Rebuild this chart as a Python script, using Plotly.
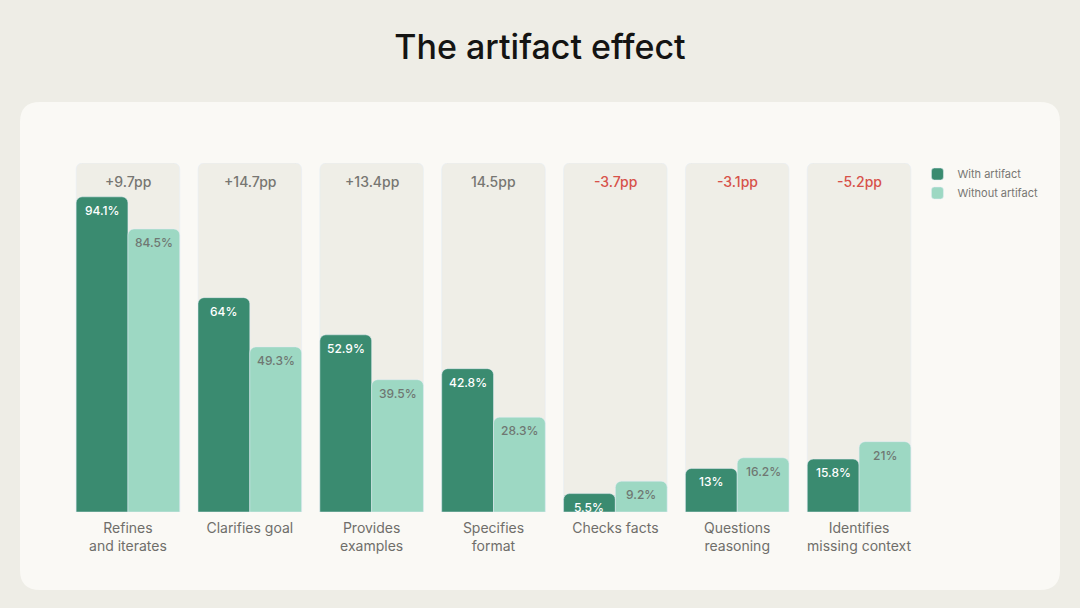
import plotly.graph_objects as go

# chart data
categories = ["Refines<br>and iterates", "Clarifies goal", "Provides<br>examples",
              "Specifies<br>format", "Checks facts", "Questions<br>reasoning",
              "Identifies<br>missing context"]
with_artifact = [94.1, 64, 52.9, 42.8, 5.5, 13, 15.8]
without_artifact = [84.5, 49.3, 39.5, 28.3, 9.2, 16.2, 21]
delta_labels = ["+9.7pp", "+14.7pp", "+13.4pp", "14.5pp", "-3.7pp", "-3.1pp", "-5.2pp"]
column_max = [104.2] * len(categories)

W, H = 1080, 608
ML, MR, MT, MB = 67, W - 920, 163, H - 512

DARK = "#3a8b70"
LIGHT = "#9dd8c3"
COL_BG = "#efeee7"
CARD = "#faf9f5"
OUTER = "#eeede6"
GRAY = "#777672"
RED = "#d7524a"
FONT = "Inter"

fig = go.Figure()

# light panel behind each category
fig.add_trace(go.Bar(x=categories, y=column_max, marker_color=COL_BG,
                     offset=-0.425, width=0.85, showlegend=False, hoverinfo="skip"))

fig.add_trace(go.Bar(x=categories, y=with_artifact, name="With artifact",
                     marker_color=DARK, offset=-0.425, width=0.425))
fig.add_trace(go.Bar(x=categories, y=without_artifact, name="Without artifact",
                     marker_color=LIGHT, offset=0, width=0.425))

# value labels just under the top of each bar (full size, even on short bars)
half = 0.425 / 2 * (853 / 7)
for cat, a, b in zip(categories, with_artifact, without_artifact):
    fig.add_annotation(x=cat, y=a, text=f"{a:g}%", showarrow=False, yanchor="top",
                       yshift=-4, xshift=-half,
                       font=dict(size=12, family=FONT, weight=500, color="white"))
    fig.add_annotation(x=cat, y=b, text=f"{b:g}%", showarrow=False, yanchor="top",
                       yshift=-4, xshift=half,
                       font=dict(size=12, family=FONT, weight=500, color="#6f7772"))

for cat, lab, top in zip(categories, delta_labels, column_max):
    fig.add_annotation(x=cat, y=top, xref="x", yref="y", text=lab, showarrow=False,
                       yanchor="top", yshift=-8,
                       font=dict(size=14, family=FONT, weight=500,
                                 color=RED if lab.startswith("-") else GRAY))

# rounded card behind the chart (pixel -> paper conversion)
pw, ph = W - ML - MR, H - MT - MB
def px_x(v):
    return (v - ML) / pw
def px_y(v):
    return (H - MB - v) / ph

def rounded_rect(x0, y0, x1, y1, r):
    return (f"M {px_x(x0 + r)},{px_y(y0)} L {px_x(x1 - r)},{px_y(y0)} "
            f"Q {px_x(x1)},{px_y(y0)} {px_x(x1)},{px_y(y0 + r)} "
            f"L {px_x(x1)},{px_y(y1 - r)} Q {px_x(x1)},{px_y(y1)} {px_x(x1 - r)},{px_y(y1)} "
            f"L {px_x(x0 + r)},{px_y(y1)} Q {px_x(x0)},{px_y(y1)} {px_x(x0)},{px_y(y1 - r)} "
            f"L {px_x(x0)},{px_y(y0 + r)} Q {px_x(x0)},{px_y(y0)} {px_x(x0 + r)},{px_y(y0)} Z")

fig.add_shape(type="path", xref="paper", yref="paper", layer="below",
              path=rounded_rect(20, 102, 1060, 590, 20),
              fillcolor=CARD, line_width=0)

fig.update_layout(
    width=W, height=H,
    margin=dict(l=ML, r=MR, t=MT, b=MB),
    paper_bgcolor=OUTER, plot_bgcolor="rgba(0,0,0,0)",
    barmode="overlay", barcornerradius=6,
    title=dict(text="The artifact effect", x=0.5, xref="container", y=1 - 47 / H,
               yanchor="middle", xanchor="center",
               font=dict(size=34, color="#141413", family=FONT, weight=500)),
    font=dict(family=FONT),
    legend=dict(x=0.997, y=1.01, xanchor="left", yanchor="top",
                bgcolor="rgba(0,0,0,0)", font=dict(size=11, color=GRAY)),
    xaxis=dict(showgrid=False, showline=False, ticks="", zeroline=False,
               ticklabelstandoff=6,
               tickfont=dict(size=14, color="#6f6e6a"), range=[-0.5, 6.5]),
    yaxis=dict(visible=False, range=[0, 104.2], showgrid=False),
)

# drop the page margin so the figure fills the window
fig.write_html("out.html", config={"displayModeBar": False},
               post_script="document.body.style.margin='0';")
